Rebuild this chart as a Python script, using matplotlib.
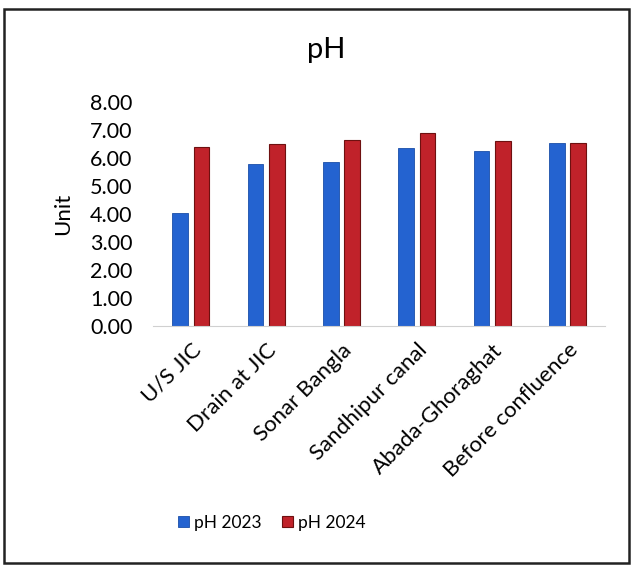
import numpy as np
import matplotlib
matplotlib.use('Agg')
import matplotlib.pyplot as plt
import matplotlib.patches as mpatches

plt.rcParams['font.family'] = ['Lato', 'DejaVu Sans']

sites = ['U/S JIC', 'Drain at JIC', 'Sonar Bangla', 'Sandhipur canal',
         'Abada-Ghoraghat', 'Before confluence']
ph_2023 = [4.05, 5.80, 5.85, 6.35, 6.25, 6.55]
ph_2024 = [6.40, 6.50, 6.65, 6.90, 6.60, 6.55]
yticks = [0, 1, 2, 3, 4, 5, 6, 7, 8]

BLUE = '#2463d0'
RED = '#c0222a'

fig = plt.figure(figsize=(6.33, 5.68), dpi=100, facecolor='white')
ax = fig.add_axes([0.242, 0.426, 0.714, 0.394])

x = np.arange(len(sites))
w = 0.21
ax.bar(x - 0.142, ph_2023, w, color=BLUE, edgecolor='#1a4fa8', linewidth=0.6,
       label='pH 2023')
ax.bar(x + 0.142, ph_2024, w, color=RED, edgecolor='#6e1010', linewidth=0.8,
       label='pH 2024')

ax.set_xlim(-0.5, len(sites) - 0.5)
ax.set_ylim(0, 8)
ax.set_yticks(yticks)
ax.set_yticklabels([f'{v:.2f}' for v in yticks], fontsize=15.5)
ax.set_xticks(x)
ax.set_xticklabels(sites, rotation=45, ha='right', rotation_mode='anchor',
                   fontsize=16)
ax.tick_params(axis='x', length=0, pad=10)
ax.tick_params(axis='y', length=0, pad=15)
for s in ['top', 'right', 'left']:
    ax.spines[s].set_visible(False)
ax.spines['bottom'].set_color('#d0d0d0')
ax.set_ylabel('Unit', fontsize=16, labelpad=12)

fig.text(0.515, 0.912, 'pH', fontsize=21, ha='center', va='center')

ax.legend(loc='center', bbox_to_anchor=(0.263, -0.88), ncol=2, frameon=False,
          fontsize=12.5, handlelength=0.6, handleheight=0.6, handletextpad=0.3,
          columnspacing=1.2)

# outer chart frame
fig.add_artist(mpatches.Rectangle((0.006, 0.009), 0.988, 0.975,
                                  transform=fig.transFigure, fill=False,
                                  edgecolor='#222222', linewidth=1.8))

plt.savefig('out.png', dpi=100, facecolor='white')
